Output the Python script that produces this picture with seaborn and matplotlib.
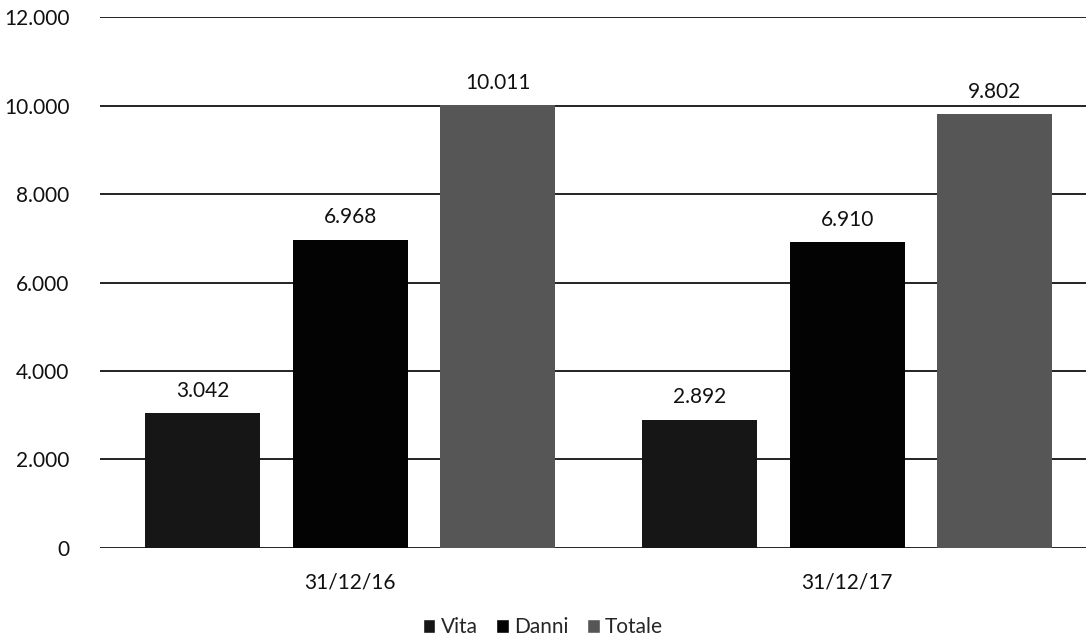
import matplotlib
matplotlib.use("Agg")
import matplotlib.pyplot as plt
import pandas as pd
import seaborn as sns
from matplotlib.patches import Patch

dates = ["31/12/16", "31/12/17"]
series = ["Vita", "Danni", "Totale"]
vita = [3042, 2892]
danni = [6968, 6910]
totale = [10011, 9802]
yticks = [0, 2000, 4000, 6000, 8000, 10000, 12000]

colors = {"Vita": "#161616", "Danni": "#030303", "Totale": "#565656"}


def fmt(v):
    return "{:,}".format(int(v)).replace(",", ".")


df = pd.DataFrame({
    "Data": dates * 3,
    "Serie": ["Vita"] * 2 + ["Danni"] * 2 + ["Totale"] * 2,
    "Valore": vita + danni + totale,
})

sns.set_theme(style="white")
plt.rcParams['font.family'] = ['Lato', 'DejaVu Sans']

fig = plt.figure(figsize=(10.86, 6.4), dpi=100)
ax = fig.add_axes([0.092, 0.144, 0.908, 0.829])

sns.barplot(data=df, x="Data", y="Valore", hue="Serie", hue_order=series,
            order=dates, palette=colors, width=0.89, gap=0.22,
            saturation=1, legend=False, ax=ax, zorder=3,
            linewidth=0, edgecolor="none")

for container in ax.containers:
    ax.bar_label(container, labels=[fmt(b.get_height()) for b in container],
                 padding=9, fontsize=15, color="#111111")

ax.set_ylim(0, 12000)
ax.set_xlim(-0.503, 1.48)
ax.set_yticks(yticks)
ax.set_yticklabels([fmt(t) for t in yticks])
ax.yaxis.grid(True, color="#111111", linewidth=1.3, zorder=0)
ax.set_axisbelow(True)
for s in ax.spines.values():
    s.set_visible(False)
ax.tick_params(axis="y", length=0, pad=22, labelsize=15, colors="#111111")
ax.tick_params(axis="x", length=0, pad=18, labelsize=15, colors="#111111")
ax.set_xlabel("")
ax.set_ylabel("")

handles = [Patch(facecolor=colors[s], label=s) for s in series]
fig.legend(handles=handles, loc="lower center", bbox_to_anchor=(0.5, -0.025),
           ncol=3, frameon=False, fontsize=15, handlelength=0.6,
           handleheight=0.6, handletextpad=0.25, columnspacing=0.9)

fig.savefig("out.png", dpi=100)
